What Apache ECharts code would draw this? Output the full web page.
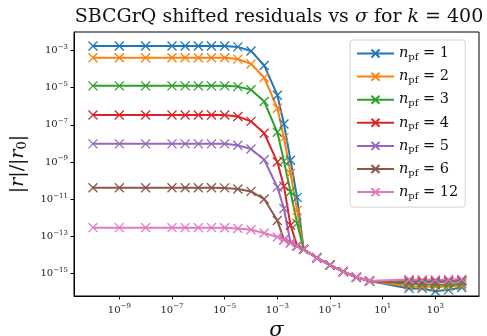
<!DOCTYPE html>
<html>
<head>
<meta charset="utf-8">
<script src="https://cdn.jsdelivr.net/npm/echarts@6/dist/echarts.min.js"></script>
<style>
  html, body { margin: 0; padding: 0; background: #fff; }
  #chart { width: 487px; height: 336px; }
</style>
</head>
<body>
<div id="chart"></div>
<script>
// sigma values (x)
const sigma = [
  1e-10, 1e-9, 1e-8, 1e-7, 3.16e-7, 1e-6, 3.16e-6, 1e-5, 3.16e-5, 1e-4,
  3.16e-4, 1e-3, 1.78e-3, 3.16e-3, 5.62e-3, 1e-2, 3.16e-2, 1e-1, 3.16e-1, 1,
  3.16, 100, 316, 1000, 3160, 10000,
];

// |r|/|r0| per n_pf
const npf1 = [
  1.78e-3, 1.78e-3, 1.78e-3, 1.78e-3, 1.78e-3, 1.78e-3, 1.78e-3, 1.78e-3, 1.58e-3, 9.55e-4,
  1.58e-4, 3.98e-6, 1.12e-7, 1.26e-9, 1.26e-11, 2.0e-14, 7.08e-15, 2.82e-15, 1.26e-15, 6.31e-16,
  3.98e-16, 1.58e-16, 1.58e-16, 1.12e-16, 1.32e-16, 1.78e-16,
];
const npf2 = [
  4.07e-4, 4.07e-4, 4.07e-4, 4.07e-4, 4.07e-4, 4.07e-4, 4.07e-4, 4.07e-4, 3.47e-4, 1.91e-4,
  3.55e-5, 7.94e-7, 2.0e-8, 2.51e-10, 2.51e-12, 2.0e-14, 7.08e-15, 2.82e-15, 1.26e-15, 6.31e-16,
  3.98e-16, 2.09e-16, 2.0e-16, 1.91e-16, 2.0e-16, 2.24e-16,
];
const npf3 = [
  1.26e-5, 1.26e-5, 1.26e-5, 1.26e-5, 1.26e-5, 1.26e-5, 1.26e-5, 1.26e-5, 1.15e-5, 7.76e-6,
  1.82e-6, 3.98e-8, 1.12e-9, 2.51e-11, 5.01e-13, 2.0e-14, 7.08e-15, 2.82e-15, 1.26e-15, 6.31e-16,
  3.98e-16, 2.82e-16, 2.63e-16, 2.51e-16, 2.51e-16, 2.82e-16,
];
const npf4 = [
  3.39e-7, 3.39e-7, 3.39e-7, 3.39e-7, 3.39e-7, 3.39e-7, 3.39e-7, 3.39e-7, 2.82e-7, 1.55e-7,
  3.55e-8, 1.0e-9, 5.01e-11, 3.98e-13, 3.16e-14, 2.0e-14, 7.08e-15, 2.82e-15, 1.26e-15, 6.31e-16,
  3.98e-16, 3.55e-16, 3.39e-16, 3.39e-16, 3.55e-16, 3.8e-16,
];
const npf5 = [
  9.55e-9, 9.55e-9, 9.55e-9, 9.55e-9, 9.55e-9, 9.55e-9, 9.55e-9, 9.55e-9, 7.94e-9, 5.01e-9,
  1.32e-9, 4.47e-11, 3.16e-12, 4.47e-14, 3.02e-14, 2.0e-14, 7.08e-15, 2.82e-15, 1.26e-15, 6.31e-16,
  3.98e-16, 3.8e-16, 3.55e-16, 3.55e-16, 3.72e-16, 3.98e-16,
];
const npf6 = [
  4.17e-11, 4.17e-11, 4.17e-11, 4.17e-11, 4.17e-11, 4.17e-11, 4.17e-11, 4.07e-11, 3.55e-11, 2.63e-11,
  1.02e-11, 7.08e-13, 6.61e-14, 4.47e-14, 3.02e-14, 2.0e-14, 7.08e-15, 2.82e-15, 1.26e-15, 6.31e-16,
  3.98e-16, 4.17e-16, 3.98e-16, 3.98e-16, 4.17e-16, 4.37e-16,
];
const npf12 = [
  2.95e-13, 2.95e-13, 2.95e-13, 2.95e-13, 2.95e-13, 2.95e-13, 2.95e-13, 2.88e-13, 2.63e-13, 2.29e-13,
  1.51e-13, 9.33e-14, 6.61e-14, 4.47e-14, 3.02e-14, 2.0e-14, 7.08e-15, 2.82e-15, 1.26e-15, 6.31e-16,
  3.98e-16, 4.79e-16, 4.68e-16, 4.68e-16, 4.79e-16, 5.01e-16,
];

const npfLabels = ["1", "2", "3", "4", "5", "6", "12"];
const colors = ["#1f77b4", "#ff7f0e", "#2ca02c", "#d62728", "#9467bd", "#8c564b", "#e377c2"];

const xTicks = [1e-9, 1e-7, 1e-5, 1e-3, 1e-1, 1e1, 1e3];
const yTicks = [1e-15, 1e-13, 1e-11, 1e-9, 1e-7, 1e-5, 1e-3];

const serif = "'DejaVu Serif', 'Liberation Serif', serif";
const xMark = "path://M0,0L10,10M10,0L0,10";

const allSeries = [npf1, npf2, npf3, npf4, npf5, npf6, npf12];

function powLabel(v) {
  const e = Math.round(Math.log10(v));
  return "{b|10}{s|" + (e < 0 ? "\u2212" + -e : e) + "}";
}

const tickRich = {
  b: { fontFamily: serif, fontSize: 10, color: "#222", lineHeight: 14 },
  s: { fontFamily: serif, fontSize: 7, color: "#222", lineHeight: 7, verticalAlign: "top" },
};

const chart = echarts.init(document.getElementById("chart"));

chart.setOption({
  animation: false,
  title: {
    text: "{n|SBCGrQ shifted residuals vs }{i|\u03c3}{n| for }{i|k}{n| = 400}",
    left: 274,
    textAlign: "center",
    top: 3,
    textStyle: {
      rich: {
        n: { fontFamily: serif, fontSize: 19, fontWeight: "normal", color: "#111" },
        i: { fontFamily: serif, fontSize: 19, fontWeight: "normal", fontStyle: "italic", color: "#111" },
      },
    },
  },
  grid: {
    left: 74,
    right: 8,
    top: 32,
    bottom: 40,
    outerBoundsMode: "none",
    containLabel: false,
    show: true,
    borderColor: "#000",
    borderWidth: 1,
  },
  legend: {
    left: 350,
    top: 40,
    orient: "vertical",
    itemWidth: 37,
    itemHeight: 10,
    itemGap: 6.6,
    itemTextGap: 10,
    padding: [6, 7, 6, 6],
    backgroundColor: "rgba(255,255,255,0.85)",
    borderColor: "#d0d0d0",
    borderWidth: 1,
    borderRadius: 3,
    formatter: (name) => "{i|n}{sub|pf}{n| = " + name + "}",
    textStyle: {
      rich: {
        i: { fontFamily: serif, fontSize: 14.5, fontStyle: "italic", color: "#111", lineHeight: 18 },
        sub: { fontFamily: serif, fontSize: 10, color: "#111", lineHeight: 7, verticalAlign: "bottom" },
        n: { fontFamily: serif, fontSize: 14.5, color: "#111", lineHeight: 18 },
      },
    },
  },
  xAxis: {
    type: "log",
    logBase: 10,
    min: Math.pow(10, -10.72),
    max: Math.pow(10, 4.655),
    name: "\u03c3",
    nameLocation: "middle",
    nameGap: 23,
    nameTextStyle: { fontFamily: serif, fontSize: 21, fontStyle: "italic", color: "#111" },
    axisLine: { lineStyle: { color: "#000", width: 1 } },
    axisTick: { customValues: xTicks, length: 3.5, lineStyle: { color: "#000" } },
    axisLabel: { customValues: xTicks, formatter: powLabel, rich: tickRich, margin: 7 },
    splitLine: { show: false },
    minorTick: { show: false },
  },
  yAxis: {
    type: "log",
    logBase: 10,
    min: Math.pow(10, -16.21),
    max: Math.pow(10, -2.0),
    name: "|{i|r}|/|{i|r}{sub|0}|",
    nameLocation: "middle",
    nameRotate: 90,
    nameGap: 45,
    nameTextStyle: {
      rich: {
        i: { fontFamily: serif, fontSize: 19, fontStyle: "italic", color: "#111", lineHeight: 22 },
        sub: { fontFamily: serif, fontSize: 13, color: "#111", lineHeight: 10, verticalAlign: "bottom" },
      },
      fontFamily: serif,
      fontSize: 19,
      color: "#111",
    },
    axisLine: { lineStyle: { color: "#000", width: 1 } },
    axisTick: { customValues: yTicks, length: 3.5, lineStyle: { color: "#000" } },
    axisLabel: { customValues: yTicks, formatter: powLabel, rich: tickRich, margin: 6 },
    splitLine: { show: false },
    minorTick: { show: false },
  },
  series: allSeries.map((vals, i) => ({
    name: npfLabels[i],
    type: "line",
    data: sigma.map((s, j) => [s, vals[j]]),
    symbol: xMark,
    symbolSize: 9,
    showAllSymbol: true,
    lineStyle: { color: colors[i], width: 2 },
    itemStyle: { color: colors[i], borderColor: colors[i], borderWidth: 1.3 },
    emphasis: { disabled: true },
  })),
});
</script>
</body>
</html>
